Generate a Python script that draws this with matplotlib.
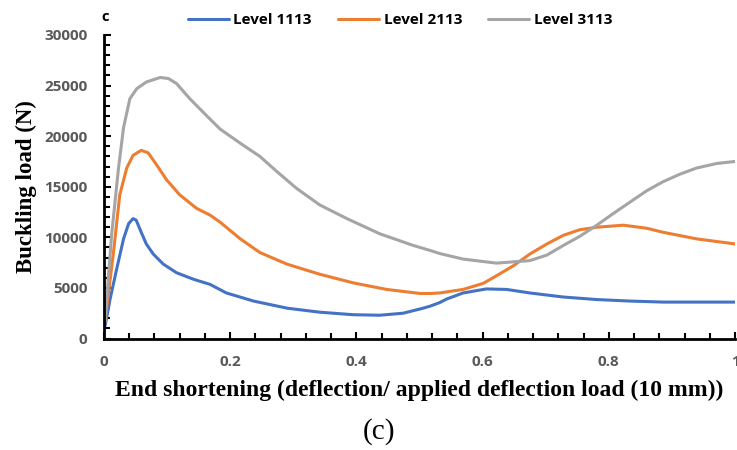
import matplotlib.pyplot as plt
from matplotlib.ticker import MultipleLocator

# End shortening (normalised) and buckling load (N) for each level
x_1113 = [0.0016, 0.0095, 0.020, 0.031, 0.039, 0.046, 0.051, 0.059, 0.067, 0.078,
          0.094, 0.115, 0.142, 0.168, 0.194, 0.237, 0.290, 0.342, 0.395, 0.437,
          0.474, 0.506, 0.517, 0.532, 0.543, 0.569, 0.606, 0.638, 0.675, 0.728,
          0.781, 0.834, 0.886, 1.0]
y_1113 = [1200, 3850, 6850, 9850, 11350, 11850, 11700, 10500, 9350, 8350,
          7350, 6500, 5850, 5350, 4500, 3700, 3000, 2600, 2350, 2300,
          2500, 3000, 3200, 3550, 3900, 4500, 4900, 4850, 4500, 4100,
          3850, 3700, 3600, 3600]

x_2113 = [0.0016, 0.015, 0.025, 0.036, 0.046, 0.059, 0.070, 0.083, 0.099, 0.120,
          0.147, 0.168, 0.184, 0.216, 0.247, 0.290, 0.342, 0.395, 0.448, 0.501,
          0.517, 0.532, 0.569, 0.601, 0.622, 0.649, 0.675, 0.702, 0.728, 0.754,
          0.781, 0.823, 0.860, 0.886, 0.939, 1.0]
y_2113 = [1700, 8500, 14200, 16850, 18100, 18600, 18350, 17200, 15700, 14200,
          12850, 12200, 11500, 9850, 8500, 7350, 6350, 5500, 4850, 4450,
          4450, 4500, 4850, 5450, 6200, 7200, 8350, 9350, 10200, 10750,
          11000, 11200, 10900, 10500, 9850, 9350]

x_3113 = [0.0016, 0.012, 0.023, 0.031, 0.041, 0.052, 0.067, 0.089, 0.102, 0.115,
          0.136, 0.163, 0.184, 0.216, 0.247, 0.274, 0.305, 0.342, 0.385, 0.437,
          0.490, 0.517, 0.532, 0.569, 0.622, 0.675, 0.702, 0.728, 0.754, 0.781,
          0.807, 0.834, 0.860, 0.886, 0.913, 0.939, 0.971, 1.0]
y_3113 = [1700, 10200, 16850, 20850, 23700, 24700, 25350, 25800, 25700, 25200,
          23700, 22000, 20700, 19300, 18000, 16500, 14850, 13200, 11850, 10350,
          9200, 8700, 8400, 7850, 7450, 7700, 8250, 9200, 10100, 11200,
          12350, 13500, 14600, 15500, 16250, 16850, 17300, 17500]

fig = plt.figure(figsize=(7.37, 4.5), dpi=100)
ax = fig.add_axes([104 / 737, 111.5 / 450, 631 / 737, 303.5 / 450])

line_kw = dict(linewidth=2.2, solid_joinstyle='round', solid_capstyle='round')
ax.plot(x_1113, y_1113, color='#4472C4', label='Level 1113', **line_kw)
ax.plot(x_2113, y_2113, color='#ED7D31', label='Level 2113', **line_kw)
ax.plot(x_3113, y_3113, color='#A5A5A5', label='Level 3113', **line_kw)

ax.set_xlim(0, 1)
ax.set_ylim(0, 30000)
ax.xaxis.set_minor_locator(MultipleLocator(0.04))
ax.yaxis.set_major_locator(MultipleLocator(5000))
ax.yaxis.set_minor_locator(MultipleLocator(1000))
ax.set_xticks([0, 0.2, 0.4, 0.6, 0.8, 1.0])
ax.set_xticklabels(['0', '0.2', '0.4', '0.6', '0.8', '1'])

for side in ['top', 'right']:
    ax.spines[side].set_visible(False)
for side in ['left', 'bottom']:
    ax.spines[side].set_linewidth(2)
    ax.spines[side].set_color('black')

ax.tick_params(which='both', direction='in', width=1.5, color='black')
ax.tick_params(which='major', length=5)
ax.tick_params(which='minor', length=4)
ax.tick_params(axis='x', pad=12)
ax.tick_params(axis='y', pad=12)
for lab in ax.get_xticklabels() + ax.get_yticklabels():
    lab.set_fontfamily('Open Sans')
    lab.set_fontweight('bold')
    lab.set_fontsize(11)
    lab.set_color('#595959')

ax.set_ylabel('Buckling load (N)', fontfamily='Liberation Serif',
              fontweight='bold', fontsize=16.5, labelpad=5)
ax.set_xlabel('End shortening (deflection/ applied deflection load (10 mm))',
              fontfamily='Liberation Serif', fontweight='bold', fontsize=17,
              labelpad=8)

ax.legend(loc='center', bbox_to_anchor=(400 / 737, 1 - 20 / 450),
          bbox_transform=fig.transFigure, ncol=3, frameon=False,
          handlelength=2.7, handletextpad=0.3, columnspacing=1.7,
          prop={'family': 'Open Sans', 'weight': 'bold', 'size': 11})

fig.text(105 / 737, 1 - 17 / 450, 'c', fontfamily='Open Sans',
         fontweight='bold', fontsize=10.5, ha='center', va='center')
fig.text(379 / 737, 1 - 432 / 450, '(c)', fontfamily='Liberation Serif',
         fontsize=21, ha='center', va='center')

fig.savefig('out.png', dpi=100)
